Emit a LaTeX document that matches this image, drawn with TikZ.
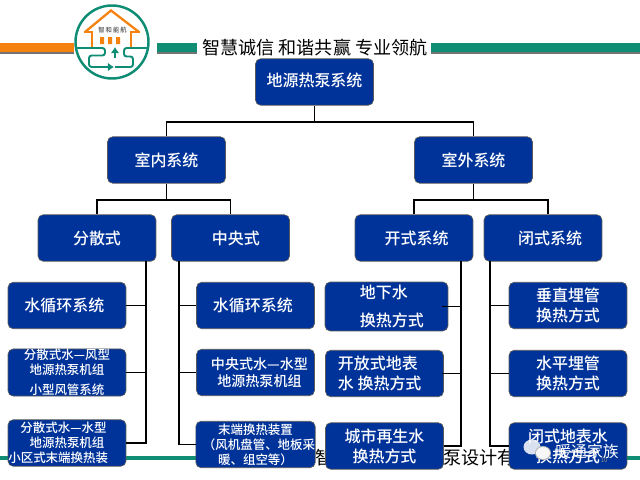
\documentclass[tikz,border=0pt]{standalone}
\usepackage{fontspec}
\setmainfont[BoldFont={Noto Sans CJK SC Medium}]{Noto Sans CJK SC}
\usetikzlibrary{arrows.meta,positioning}
\definecolor{boxblue}{HTML}{003399}
\definecolor{logoteal}{HTML}{0E8C74}
\definecolor{logoorange}{HTML}{F5820F}

\begin{document}
\begin{tikzpicture}[x=0.02cm, y=-0.02cm,
  box/.style={draw=black!65, fill=boxblue, rounded corners=3pt, text=white, align=center,
              font=\fontsize{9.1}{11.4}\selectfont\bfseries, inner sep=0pt,
              minimum width=2.36cm, minimum height=0.93cm},
  wide/.style={minimum width=2.46cm, minimum height=0.98cm},
  small/.style={font=\fontsize{7.1}{8.6}\selectfont\bfseries},
  mid/.style={font=\fontsize{8}{9.6}\selectfont\bfseries},
  conn/.style={line width=0.85pt, black},
  hdr/.style={inner sep=0pt, font=\fontsize{10.3}{12}\selectfont},
  pipe/.style={logoteal, line width=1.1pt, rounded corners=1.5pt},
  wall/.style={logoorange, line width=1.3pt}
]
\useasboundingbox (0,0) rectangle (640,480);

% header bars
\fill[black!55] (0,45) rectangle (74,53.5);
\fill[logoorange] (0,43) rectangle (74,52);
\fill[black!55] (157,45) rectangle (197,53.5);
\fill[logoteal] (157,43) rectangle (197,52);
\fill[black!55] (431,45) rectangle (640,53.5);
\fill[logoteal] (431,43) rectangle (640,52);
\node[hdr, anchor=west] (motto) at (202,48) {智慧诚信 和谐共赢 专业领航};

% logo
\draw[logoteal, fill=white, line width=1.4pt] (112,42) circle (36.5);
\draw[wall, line join=miter] (85,32) -- (111,10.5) -- (139,32);
\draw[wall] (84,32) -- (92,32) -- (92,47);
\draw[wall] (140,32) -- (131,32) -- (131,47);
\fill[logoorange] (100,37) rectangle (104,44) (108,37) rectangle (112,44) (116,37) rectangle (120,44);
\node[inner sep=0pt, font=\fontsize{3.6}{4}\selectfont\bfseries, text=black!70] (logotxt) at (112.5,30) {智\,和\,能\,航};
\draw[pipe] (76,48) -- (105,48) -- (105,55.5) -- (89,55.5) -- (89,67) -- (108,67);
\draw[pipe] (148,48) -- (124,48) -- (124,56.5) -- (133,56.5) -- (133,67) -- (115,67);
\draw[logoteal, line width=1.1pt, -{Latex[length=3.5pt,width=5pt]}] (107,67) -- (114,67);
\draw[logoteal, line width=1.1pt, -{Latex[length=3.5pt,width=5pt]}] (115,58) -- (115,47);

% footer behind the boxes
\fill[logoteal] (0,456) rectangle (312,459.5);
\fill[logoteal] (620,456) rectangle (640,459.5);
\node[hdr, anchor=west] (ftl) at (315,458) {智};
\node[hdr, anchor=west] (ftr) at (443,458) {泵设计有};

% top of the tree
\node[box] (root) at (314.5,82) {\raisebox{2.2pt}{地源热泵系统}};
\node[box] (sn) at (166.5,160) {室内系统};
\node[box] (sw) at (473.5,160) {室外系统};

\node[box] (fs) at (97,238) {分散式};
\node[box] (zy) at (230.5,238) {\hspace*{6pt}中央式};
\node[box] (kf) at (414,238) {\hspace*{3pt}开式系统};
\node[box] (bf) at (543,238) {\hspace*{8pt}闭式系统};

% left column
\node[box] (fs1) at (67,305.5) {水循环系统\hspace*{3pt}};
\node[box, small] (fs2) at (67,372.5) {分散式水—风型\\地源热泵机组\\[3pt]小型风管系统};
\node[box, small] (fs3) at (67,443) {分散式水—水型\hspace*{4pt}\\地源热泵机组\\小区式末端换热装\hspace*{10pt}};

\node[box] (zy1) at (255.5,305.5) {水循环系统\hspace*{3pt}};
\node[box, mid] (zy2) at (255.5,372.5) {\hspace*{4.5pt}中央式水—水型\\\hspace*{4.5pt}地源热泵机组};
\node[box, small] (zy3) at (255.5,444.5) {末端换热装置\\\hspace*{4pt}（风机盘管、地板采\\暖、组空等）};

% right columns
\node[box, wide, align=left] (kf1) at (386.5,306.5) {\hspace*{6pt}地下水\\[4.5pt]\hspace*{6pt}换热方式};
\node[box, align=left] (kf2) at (384.5,373.5) {开放式地表\hspace*{7.5pt}\\水 换热方式};
\node[box] (kf3) at (384.5,446) {城市再生水\\换热方式};

\node[box] (bf1) at (568,305.5) {垂直埋管\\换热方式};
\node[box] (bf2) at (568,373.5) {水平埋管\\换热方式};
\node[box] (bf3) at (568,446) {闭式地表水\\换热方式};

% connectors
\coordinate (jroot) at (314.5,122);
\coordinate (jsn) at (166.5,200);
\coordinate (jsw) at (473.5,200);
\coordinate (tfs) at (146,261);
\coordinate (tzy) at (179,261);
\coordinate (tkf) at (461,261);
\coordinate (tbf) at (490,261);

\draw[conn] (root.south) -- (jroot);
\draw[conn] (sn.north) |- (jroot) -| (sw.north);
\draw[conn] (sn.south) -- (jsn);
\draw[conn] (fs.north) |- (jsn) -| (zy.north);
\draw[conn] (sw.south) -- (jsw);
\draw[conn] (kf.north) |- (jsw) -| ([xshift=2.8pt]bf.north);

\draw[conn] (fs1.east) -- (fs1.east -| tfs);
\draw[conn] (fs2.east) -- (fs2.east -| tfs);
\draw[conn] (fs3.east) -| (tfs);
\draw[conn] (zy1.west) -- (zy1.west -| tzy);
\draw[conn] (zy2.west) -- (zy2.west -| tzy);
\draw[conn] (zy3.west) -| (tzy);
\draw[conn] ([xshift=-3.4pt]kf1.east) -- (kf1.east -| tkf);
\draw[conn] ([xshift=-1pt]kf2.east) -- (kf2.east -| tkf);
\draw[conn] (kf3.east) -| (tkf);
\draw[conn] (bf1.west) -- (bf1.west -| tbf);
\draw[conn] (bf2.west) -- (bf2.west -| tbf);
\draw[conn] (bf3.west) -| (tbf);

% watermark
\fill[white, opacity=.85] (532,447) ellipse (8.5 and 7.5);
\fill[black!30] (543,453) ellipse (8 and 7);
\fill[white, opacity=.9] (543,453) ellipse (7 and 6);
\node[inner sep=0pt, font=\fontsize{9}{11}\selectfont, text=white] (mark) at (587,451) {暖通家族};
\node[inner sep=0pt, font=\fontsize{3.5}{4}\selectfont, text=black!45] (markno) at (604,460) {10};
\end{tikzpicture}
\end{document}
